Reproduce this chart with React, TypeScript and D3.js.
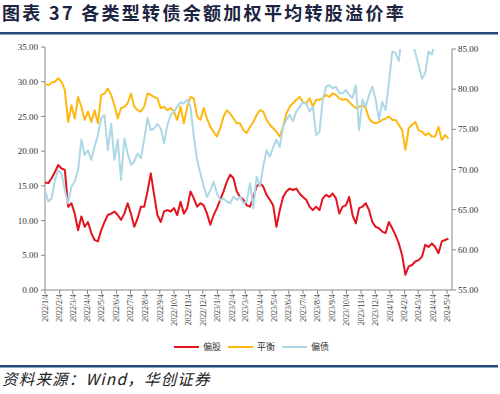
import React from 'react'
import * as d3 from 'd3'

// weekly samples starting 2022/1/4
const startDay = new Date(2022, 0, 4)

const equityBias = [
  15.5, 15.4, 16.1, 17.0, 18.0, 17.5, 17.3, 12.0, 12.5, 11.0, 8.6, 10.6, 9.1, 9.8, 8.2, 7.2, 7.0, 8.6, 9.8, 10.8, 11.0,
  11.3, 10.8, 10.1, 11.0, 12.5, 11.0, 9.1, 10.3, 12.0, 12.0, 14.2, 16.8, 13.7, 10.8, 9.8, 11.3, 11.5, 11.3, 11.8, 10.8, 12.7,
  11.0, 11.8, 14.2, 13.2, 12.0, 12.5, 12.2, 11.0, 9.4, 10.8, 11.8, 13.0, 14.2, 15.6, 16.6, 16.1, 14.2, 13.4, 13.0, 12.2,
  12.0, 13.4, 14.9, 15.4, 14.9, 13.7, 13.0, 12.2, 9.1, 11.5, 13.4, 14.2, 14.6, 14.4, 14.6, 13.9, 13.4, 13.0, 12.0, 11.5, 12.0,
  11.5, 13.2, 13.7, 13.4, 13.9, 13.2, 11.0, 12.0, 12.2, 13.4, 10.8, 9.6, 11.8, 12.0, 12.5, 11.5, 9.8, 9.1, 8.9, 8.4,
  8.2, 9.8, 8.9, 7.9, 6.7, 5.0, 2.2, 3.4, 3.6, 4.1, 4.3, 4.8, 6.5, 6.2, 6.7, 6.2, 5.3, 7.0, 7.2, 7.4
]

const balanced = [
  29.7, 29.5, 29.9, 30.0, 30.5, 30.0, 28.8, 24.2, 26.6, 24.7, 27.8, 26.4, 24.5, 25.7, 24.2, 25.9, 24.0, 28.1, 28.3, 29.0, 28.1,
  26.6, 24.7, 26.2, 26.4, 26.9, 28.3, 26.4, 25.9, 25.7, 26.4, 28.3, 28.1, 27.8, 27.6, 26.2, 26.4, 25.9, 26.2, 25.7, 24.5, 26.4,
  24.0, 26.4, 27.8, 27.6, 25.0, 24.5, 26.2, 24.7, 23.5, 22.8, 22.1, 23.3, 25.0, 25.9, 25.4, 24.7, 24.0, 24.0, 23.0, 22.6,
  23.5, 24.2, 25.2, 25.9, 25.7, 24.5, 23.8, 23.3, 22.8, 22.1, 23.5, 25.4, 26.4, 26.9, 27.4, 27.8, 27.1, 26.9, 27.6, 26.4, 27.4,
  27.4, 27.6, 28.1, 27.8, 28.3, 28.1, 27.6, 27.4, 27.5, 27.1, 26.6, 26.2, 26.4, 26.6, 26.2, 24.7, 24.2, 24.0, 24.2, 24.5,
  24.7, 25.0, 24.5, 24.5, 23.8, 23.0, 20.2, 23.3, 23.8, 24.2, 23.0, 22.8, 22.3, 22.6, 22.1, 22.1, 23.5, 21.6, 22.3, 21.8
]

// right axis
const bondBias = [
  67.4, 66.0, 66.4, 68.7, 69.9, 69.5, 67.4, 65.8, 67.9, 68.5, 69.9, 73.7, 71.8, 72.4, 71.2, 72.8, 74.3, 76.4, 76.8, 72.4, 75.7,
  71.2, 73.7, 68.7, 73.9, 72.0, 70.6, 71.0, 72.0, 71.4, 73.7, 76.4, 74.9, 75.1, 75.7, 75.1, 73.3, 75.5, 76.8, 77.2, 77.8, 78.4,
  78.2, 78.7, 77.8, 74.1, 71.2, 69.5, 67.9, 66.6, 67.4, 68.5, 67.0, 66.2, 66.4, 66.0, 65.8, 66.6, 66.2, 66.6, 65.8, 66.0,
  68.3, 65.2, 69.1, 67.9, 70.4, 72.4, 71.6, 72.8, 73.7, 72.8, 75.3, 76.2, 76.8, 76.0, 77.2, 77.8, 78.4, 78.2, 77.2, 77.8, 74.3,
  74.7, 78.7, 80.3, 80.5, 80.1, 80.3, 79.5, 79.5, 79.9, 79.3, 78.9, 80.5, 74.9, 78.7, 77.8, 79.3, 80.3, 78.7, 76.2, 78.4,
  77.4, 80.7, 84.7, 84.5, 83.5, 87, 88, 88, 86, 84.5, 83.0, 81.3, 82.0, 84.7, 84.3, 86, 87, 88, 87, 88
]

const leftTicks = [0, 5, 10, 15, 20, 25, 30, 35]
const rightTicks = [55, 60, 65, 70, 75, 80, 85]
const monthTicks = d3.range(29).map(i => new Date(2022, i, 4))

const legendItems = [
  { name: '偏股', color: '#e3141f' },
  { name: '平衡', color: '#fdb813' },
  { name: '偏债', color: '#add8e6' }
]

const serif = '"Liberation Serif", "Times New Roman", serif'
const cjk = '"Noto Sans CJK SC", sans-serif'

export default function App() {
  const left = 45, right = 452, top = 47, bottom = 290

  const x = d3.scaleTime()
    .domain([new Date(2022, 0, 4), new Date(2024, 4, 4)])
    .range([left, 447])
  const yL = d3.scaleLinear().domain([0, 35]).range([bottom, top])
  const yR = d3.scaleLinear().domain([55, 85]).range([bottom, 49])

  const dateAt = (i: number) => d3.timeDay.offset(startDay, i * 7)

  const lineL = d3.line<number>().x((d, i) => x(dateAt(i))).y(d => yL(d))
  const lineR = d3.line<number>().x((d, i) => x(dateAt(i))).y(d => yR(d))

  const fmt = (d: Date) => `${d.getFullYear()}/${d.getMonth() + 1}/${d.getDate()}`

  return (
    <svg width={500} height={394} style={{ position: 'absolute', left: 0, top: 0, background: '#fff' }}>
      <defs>
        <clipPath id="plot">
          <rect x={left} y={yR(85)} width={right - left} height={bottom - yR(85)} />
        </clipPath>
      </defs>

      {/* title */}
      <text x={2} y={20} fontFamily={cjk} fontWeight="bold" fontSize={18} letterSpacing={2.3} fill="#1b2440">
        图表 37 各类型转债余额加权平均转股溢价率
      </text>
      <rect x={0} y={32} width={498} height={2.5} fill="#244a7c" />

      {/* left axis */}
      <line x1={left} x2={left} y1={top} y2={bottom} stroke="#888" />
      {leftTicks.map(t => (
        <g key={'l' + t}>
          <line x1={left - 4} x2={left} y1={yL(t)} y2={yL(t)} stroke="#888" />
          <text x={left - 7} y={yL(t)} dy="0.35em" textAnchor="end" fontFamily={serif} fontSize={9} fill="#333">
            {t.toFixed(2)}
          </text>
        </g>
      ))}

      {/* right axis */}
      <line x1={right} x2={right} y1={yR(85)} y2={bottom} stroke="#888" />
      {rightTicks.map(t => (
        <g key={'r' + t}>
          <line x1={right} x2={right + 4} y1={yR(t)} y2={yR(t)} stroke="#888" />
          <text x={right + 6} y={yR(t)} dy="0.35em" fontFamily={serif} fontSize={9} fill="#333">
            {t.toFixed(2)}
          </text>
        </g>
      ))}

      {/* bottom axis */}
      <line x1={left} x2={right} y1={bottom} y2={bottom} stroke="#888" />
      {monthTicks.map(d => (
        <g key={fmt(d)}>
          <line x1={x(d)} x2={x(d)} y1={bottom} y2={bottom + 4} stroke="#888" />
          <text transform={`translate(${x(d)},${bottom + 4}) rotate(-90)`} dy="0.35em" textAnchor="end"
            fontFamily={serif} fontSize={7.8} fill="#333">
            {fmt(d)}
          </text>
        </g>
      ))}

      {/* series */}
      <g clipPath="url(#plot)" fill="none" strokeWidth={2} strokeLinejoin="round">
        <path d={lineL(equityBias) || ''} stroke={legendItems[0].color} />
        <path d={lineL(balanced) || ''} stroke={legendItems[1].color} />
        <path d={lineR(bondBias) || ''} stroke={legendItems[2].color} />
      </g>

      {/* legend */}
      {legendItems.map((it, i) => (
        <g key={it.name} transform={`translate(${174 + i * 54},347)`}>
          <line x1={0} x2={25} y1={0} y2={0} stroke={it.color} strokeWidth={2} />
          <text x={29} y={0} dy="0.35em" fontFamily={cjk} fontSize={9} fill="#333">{it.name}</text>
        </g>
      ))}

      {/* source */}
      <rect x={0} y={365} width={498} height={2.5} fill="#244a7c" />
      <text x={2} y={385} fontFamily={cjk} fontStyle="italic" fontSize={15.5} letterSpacing={1.2} fill="#222">
        资料来源：Wind，华创证券
      </text>
    </svg>
  )
}
